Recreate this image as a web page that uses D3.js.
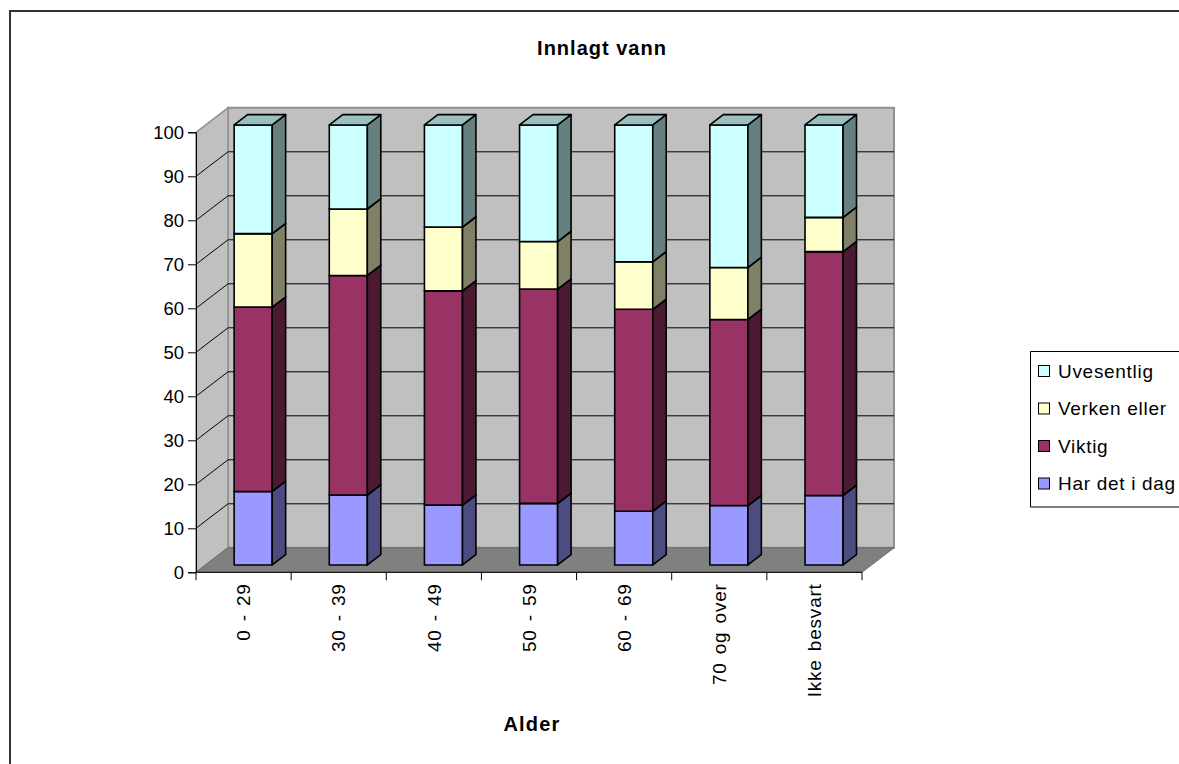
<!DOCTYPE html>
<html>
<head>
<meta charset="utf-8">
<script src="https://cdn.jsdelivr.net/npm/d3@7"></script>
<style>
  html, body { margin: 0; padding: 0; background: #fff; }
  svg text { font-family: "Liberation Sans", Arial, sans-serif; fill: #000; }
</style>
</head>
<body>
<svg id="chart" width="1179" height="764"></svg>
<script>
// Age groups along the category axis
const categories = ["0 - 29", "30 - 39", "40 - 49", "50 - 59", "60 - 69", "70 og over", "Ikke besvart"];

// Series (percent), stacked bottom to top
const seriesNames = ["Har det i dag", "Viktig", "Verken eller", "Uvesentlig"];
const harDetIDag  = [16.7, 15.9, 13.6, 14.0, 12.2, 13.5, 15.8];
const viktig      = [41.9, 49.9, 48.7, 48.7, 45.9, 42.3, 55.4];
const verkenEller = [16.7, 15.1, 14.5, 10.8, 10.8, 11.8, 7.8];
const uvesentlig  = [24.7, 19.1, 23.2, 26.5, 31.1, 32.4, 21.0];

const yTicks = [0, 10, 20, 30, 40, 50, 60, 70, 80, 90, 100];

// Face colours per series: front, side, top
const palette = {
  "Har det i dag": { front: "#9999FF", side: "#4C4C80", top: "#7373BF" },
  "Viktig":        { front: "#993366", side: "#4C1933", top: "#732650" },
  "Verken eller":  { front: "#FFFFCC", side: "#808066", top: "#BFBF99" },
  "Uvesentlig":    { front: "#CCFFFF", side: "#668080", top: "#99BFBF" }
};

const svg = d3.select("#chart");

// Rows for d3.stack
const rows = categories.map((c, i) => ({
  cat: c,
  "Har det i dag": harDetIDag[i],
  "Viktig": viktig[i],
  "Verken eller": verkenEller[i],
  "Uvesentlig": uvesentlig[i]
}));
const stacked = d3.stack().keys(seriesNames)(rows);

// Front plane scales
const x = d3.scaleBand().domain(categories).range([196, 862]).paddingInner(0).paddingOuter(0);
const y = d3.scaleLinear().domain([0, 100]).range([572.3, 132.3]);

// Oblique depth vector of the plot box
const DX = 32, DY = -24.5;
const T0 = 0.30, T1 = 0.72;           // bar front / back depth fractions
const barW = x.bandwidth() * 0.4;

const P = (xf, v, t) => [xf + t * DX, y(v) + t * DY];
const poly = pts => pts.map(p => p.join(",")).join(" ");

// Chart area border
svg.append("path")
  .attr("d", "M10,764 L10,11 L1179,11")
  .attr("fill", "none").attr("stroke", "#333").attr("stroke-width", 2);

// Title
svg.append("text")
  .attr("x", 602).attr("y", 55)
  .attr("text-anchor", "middle")
  .style("font-weight", "bold").style("font-size", "20px").style("letter-spacing", "1px")
  .text("Innlagt vann");

const x0 = x.range()[0], x1 = x.range()[1];

// Back wall
svg.append("polygon")
  .attr("points", poly([P(x0, 0, 1), P(x1, 0, 1), P(x1, 100, 1), P(x0, 100, 1)]))
  .attr("fill", "#C0C0C0").attr("stroke", "#909090").attr("stroke-width", 2);

// Left wall
svg.append("polygon")
  .attr("points", poly([P(x0, 0, 0), P(x0, 0, 1), P(x0, 100, 1), P(x0, 100, 0)]))
  .attr("fill", "#C0C0C0").attr("stroke", "#909090").attr("stroke-width", 1.5);

// Floor
svg.append("polygon")
  .attr("points", poly([P(x0, 0, 0), P(x1, 0, 0), P(x1, 0, 1), P(x0, 0, 1)]))
  .attr("fill", "#808080").attr("stroke", "#6a6a6a").attr("stroke-width", 1);

// Gridlines on the walls
const gridVals = yTicks.filter(v => v > 0 && v < 100);
const grid = svg.append("g").attr("stroke", "#000").attr("stroke-width", 1).attr("fill", "none");
gridVals.forEach(v => {
  grid.append("polyline")
    .attr("points", poly([P(x0, v, 0), P(x0, v, 1), P(x1, v, 1)]));
});

// Stacked 3D columns
const bars = svg.append("g")
  .attr("stroke", "#000").attr("stroke-width", 1.6).attr("stroke-linejoin", "round");
categories.forEach((c, i) => {
  const xl = x(c) + (x.bandwidth() - barW) / 2;
  const xr = xl + barW;
  stacked.forEach(layer => {
    const v0 = layer[i][0], v1 = layer[i][1];
    const col = palette[layer.key];
    bars.append("polygon").attr("fill", col.front)
      .attr("points", poly([P(xl, v0, T0), P(xr, v0, T0), P(xr, v1, T0), P(xl, v1, T0)]));
    bars.append("polygon").attr("fill", col.side)
      .attr("points", poly([P(xr, v0, T0), P(xr, v0, T1), P(xr, v1, T1), P(xr, v1, T0)]));
    bars.append("polygon").attr("fill", col.top)
      .attr("points", poly([P(xl, v1, T0), P(xr, v1, T0), P(xr, v1, T1), P(xl, v1, T1)]));
  });
});

// Value axis
const yAxis = d3.axisLeft(y).tickValues(yTicks).tickSize(8).tickPadding(4).tickFormat(d3.format("d"));
const gy = svg.append("g").attr("transform", `translate(${x0},0)`).call(yAxis);
gy.select(".domain").attr("stroke", "#000");
gy.selectAll(".tick line").attr("stroke", "#000");
gy.selectAll(".tick text")
  .style("font-size", "18.5px").style("font-family", "Liberation Sans, Arial, sans-serif")
  .attr("dy", "0.36em");

// Category axis
const gx = svg.append("g").attr("transform", `translate(0,${y(0)})`);
gx.append("line").attr("x1", x0).attr("x2", x1).attr("stroke", "#000");
const bounds = categories.map(c => x(c)).concat([x1]);
gx.selectAll("line.tk").data(bounds).join("line").attr("class", "tk")
  .attr("x1", d => d).attr("x2", d => d).attr("y1", 0).attr("y2", 8).attr("stroke", "#000");
gx.selectAll("text").data(categories).join("text")
  .attr("transform", d => `translate(${x(d) + x.bandwidth() / 2},${11}) rotate(-90)`)
  .attr("text-anchor", "end").attr("dy", "0.35em")
  .style("font-size", "19px").style("letter-spacing", "0.8px").style("word-spacing", "2px")
  .text(d => d);

// Axis title
svg.append("text")
  .attr("x", 532).attr("y", 731).attr("text-anchor", "middle")
  .style("font-weight", "bold").style("font-size", "20px").style("letter-spacing", "1.2px")
  .text("Alder");

// Legend
const lg = svg.append("g");
lg.append("path").attr("d", "M1179,351.5 L1030.5,351.5 L1030.5,507 L1179,507")
  .attr("fill", "#fff").attr("stroke", "#000").attr("stroke-width", 1);
const legendOrder = seriesNames.slice().reverse();
legendOrder.forEach((name, k) => {
  const cy = 371 + k * 37.5;
  lg.append("rect").attr("x", 1038.5).attr("y", cy - 5.5).attr("width", 11).attr("height", 11)
    .attr("fill", palette[name].front).attr("stroke", "#000").attr("stroke-width", 1);
  lg.append("text").attr("x", 1058).attr("y", cy + 6.5)
    .style("font-size", "19px").style("letter-spacing", "0.7px")
    .text(name);
});
</script>
</body>
</html>
